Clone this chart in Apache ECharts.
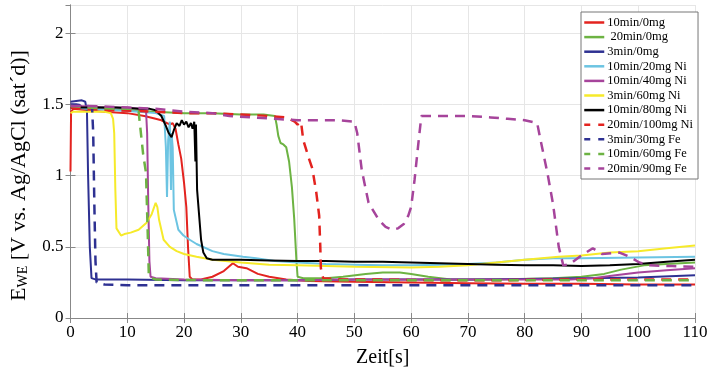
<!DOCTYPE html>
<html><head><meta charset="utf-8">
<script src="https://cdn.jsdelivr.net/npm/echarts@6/dist/echarts.min.js"></script>
<style>html,body{margin:0;padding:0;background:#fff}#c{width:715px;height:373px}</style>
</head><body><div id="c"></div>
<script>
const seriesNames = ["10min/0mg"," 20min/0mg","3min/0mg","10min/20mg Ni","10min/40mg Ni","3min/60mg Ni","10min/80mg Ni","20min/100mg Ni","3min/30mg Fe","10min/60mg Fe","20min/90mg Fe"];
const xTicks = [0,10,20,30,40,50,60,70,80,90,100,110];
const yTicks = [0,0.5,1,1.5,2];

const s10min0mg = [[0,1.03],[0.1,1.45],[0.5,1.47],[3,1.46],[6,1.45],[10,1.44],[13,1.42],[15,1.40],[16,1.39],[17,1.37],[17.5,1.36],[18,1.37],[18.5,1.33],[19,1.22],[19.5,1.12],[20,0.95],[20.4,0.78],[20.7,0.5],[21,0.29],[21.5,0.27],[23,0.27],[25,0.29],[27,0.33],[28.6,0.385],[29.5,0.36],[31,0.35],[33,0.31],[35,0.29],[38,0.27],[42,0.26],[50,0.255],[60,0.25],[70,0.245],[80,0.24],[90,0.24],[100,0.235],[110,0.235]];
const s20min0mg = [[0,1.48],[2,1.48],[5,1.47],[10,1.46],[15,1.45],[20,1.44],[25,1.44],[30,1.43],[34,1.43],[36,1.42],[36.3,1.36],[36.6,1.28],[37,1.23],[37.5,1.22],[38,1.2],[38.5,1.1],[39,0.92],[39.4,0.7],[39.8,0.4],[40,0.29],[41,0.28],[45,0.28],[48,0.29],[52,0.31],[55,0.32],[58,0.32],[60,0.31],[63,0.29],[67,0.27],[75,0.27],[85,0.28],[90,0.29],[94,0.31],[97,0.34],[101,0.37],[105,0.38],[110,0.39]];
const s3min0mg = [[0,1.52],[0.3,1.53],[2,1.53],[2.6,1.52],[2.9,1.45],[3.1,1.0],[3.4,0.5],[3.7,0.28],[4.5,0.27],[10,0.27],[20,0.265],[30,0.265],[40,0.265],[50,0.27],[60,0.27],[70,0.27],[80,0.275],[90,0.28],[100,0.285],[110,0.3]];
const s10min20Ni = [[0,1.48],[3,1.47],[8,1.46],[12,1.45],[15,1.44],[16.5,1.42],[16.8,1.2],[17.0,0.85],[17.2,1.25],[17.5,1.38],[17.7,0.9],[17.8,1.3],[18.0,1.2],[18.2,0.76],[19,0.62],[19.9,0.58],[21,0.55],[22.2,0.52],[25,0.47],[27,0.45],[30.4,0.43],[32.7,0.42],[36,0.4],[40,0.39],[45,0.38],[50,0.375],[55,0.37],[60,0.37],[65,0.375],[70,0.38],[75,0.39],[80,0.41],[85,0.42],[90,0.42],[100,0.425],[110,0.43]];
const s10min40Ni = [[0,1.5],[2,1.49],[6,1.48],[10,1.48],[12.5,1.47],[13.3,1.46],[13.5,1.3],[13.7,0.8],[13.9,0.4],[14.1,0.29],[15,0.28],[20,0.27],[30,0.265],[40,0.265],[50,0.27],[60,0.27],[70,0.27],[80,0.27],[88,0.27],[92,0.28],[96,0.3],[100,0.32],[105,0.335],[110,0.35]];
const s3min60Ni = [[0,1.44],[0.5,1.45],[3,1.45],[6,1.45],[7.1,1.44],[7.5,1.40],[7.7,1.3],[7.9,0.9],[8.1,0.63],[8.9,0.58],[9.5,0.59],[10.6,0.6],[12,0.62],[13.4,0.67],[14.3,0.73],[15,0.81],[15.3,0.78],[15.6,0.69],[16.4,0.55],[17.5,0.5],[18.7,0.47],[20,0.45],[22.2,0.43],[25,0.41],[30,0.39],[35,0.375],[40,0.37],[50,0.36],[60,0.355],[65,0.36],[70,0.37],[75,0.39],[80,0.41],[86,0.43],[90,0.44],[95,0.46],[100,0.47],[105,0.49],[110,0.51]];
const s10min80Ni = [[0,1.48],[3,1.48],[8,1.48],[12,1.47],[14,1.47],[15,1.46],[16,1.42],[16.8,1.35],[17.3,1.3],[17.8,1.27],[18.2,1.32],[18.7,1.37],[19.2,1.35],[19.6,1.39],[20,1.36],[20.4,1.38],[20.8,1.34],[21.2,1.37],[21.5,1.33],[21.8,1.38],[22,1.1],[22.1,1.36],[22.3,0.9],[22.6,0.75],[23,0.55],[23.4,0.46],[24,0.42],[25,0.41],[30,0.41],[35,0.405],[40,0.4],[45,0.4],[50,0.395],[55,0.395],[60,0.39],[65,0.385],[70,0.38],[75,0.375],[80,0.37],[85,0.37],[90,0.365],[95,0.37],[100,0.38],[105,0.395],[110,0.41]];
const s20min100Ni = [[0,1.48],[3,1.47],[8,1.46],[15,1.45],[20,1.44],[25,1.44],[30,1.43],[35,1.42],[38,1.41],[39.5,1.38],[40,1.36],[40.6,1.38],[41,1.25],[42,1.12],[42.6,1.05],[43.3,0.88],[43.8,0.72],[44,0.5],[44.1,0.35],[44.5,0.28],[48,0.27],[55,0.27],[65,0.265],[75,0.265],[85,0.27],[95,0.27],[110,0.27]];
const s3min30Fe = [[0,1.5],[1,1.5],[3,1.49],[3.8,1.48],[4.0,1.3],[4.2,0.8],[4.4,0.4],[4.6,0.25],[6,0.235],[10,0.23],[20,0.23],[40,0.23],[60,0.23],[80,0.23],[100,0.23],[110,0.23]];
const s10min60Fe = [[0,1.49],[3,1.48],[8,1.47],[11,1.47],[12,1.45],[12.4,1.3],[12.8,1.15],[13.3,1.02],[13.6,0.6],[13.8,0.29],[15,0.27],[25,0.265],[40,0.265],[60,0.265],[80,0.265],[100,0.265],[110,0.265]];
const s20min90Fe = [[0,1.49],[3,1.49],[10,1.48],[15,1.47],[20,1.45],[25,1.44],[28,1.42],[32,1.41],[36,1.40],[40,1.39],[44,1.39],[47,1.39],[50,1.38],[50.5,1.3],[51.3,1.04],[52.5,0.81],[54.3,0.69],[55.5,0.64],[56.6,0.62],[57.7,0.63],[58.7,0.66],[59.5,0.72],[60,0.78],[60.6,0.97],[61.2,1.2],[61.8,1.42],[65,1.42],[70,1.42],[74,1.41],[77,1.40],[80,1.39],[82.2,1.37],[82.8,1.25],[84,1.02],[85,0.80],[86,0.5],[86.8,0.37],[88,0.38],[90,0.44],[92,0.49],[93.6,0.45],[96.7,0.46],[98.5,0.43],[100.2,0.39],[102,0.37],[106,0.365],[110,0.36]];

const allData = [s10min0mg,s20min0mg,s3min0mg,s10min20Ni,s10min40Ni,s3min60Ni,s10min80Ni,s20min100Ni,s3min30Fe,s10min60Fe,s20min90Fe];
const colors = ['#e3231f','#6db343','#2e3192','#6cc4e2','#a6449b','#f6ea2a','#000000','#e3231f','#2e3192','#6db343','#a6449b'];
const dashed = [false,false,false,false,false,false,false,true,true,true,true];

const FONT = '"Liberation Serif", "DejaVu Serif", serif';
const chart = echarts.init(document.getElementById('c'), null, {renderer:'canvas'});
const series = allData.map((d,i)=>({
  name: seriesNames[i], type:'line', data:d, showSymbol:false, symbol:'none',
  xAxisIndex:0, yAxisIndex:0, animation:false,
  lineStyle:{color:colors[i], width: dashed[i]?2.5:2, type: dashed[i]?[10,7]:'solid'},
  itemStyle:{color:colors[i]}
}));
const axisLineStyle = {lineStyle:{color:'#888', width:1}};
chart.setOption({
  animation:false,
  grid:{left:66, right:20, top:5, bottom:55},
  legend:{
    orient:'vertical', left:581, top:12, itemWidth:20, itemHeight:10, itemGap:1.6,
    padding:[4,5,4,2], borderColor:'#777', borderWidth:1, backgroundColor:'#fff',
    itemStyle:{opacity:0},
    textStyle:{fontFamily:FONT, fontSize:12.5, lineHeight:12.5, color:'#000', padding:[0,0,0,-2]},
    data: seriesNames.map((n,i)=>({name:n, itemStyle:{opacity:0}, lineStyle: dashed[i]?{type:[6,8], width:2.5}:{width:2.5}}))
  },
  xAxis:[{
    type:'value', min:0, max:110, interval:10, position:'bottom',
    name:'Zeit[s]', nameLocation:'middle', nameGap:30,
    nameTextStyle:{fontFamily:FONT, fontSize:20, color:'#000'},
    axisLine:axisLineStyle, axisTick:{inside:true, length:5, lineStyle:{color:'#888'}},
    axisLabel:{fontFamily:FONT, fontSize:17, color:'#000', margin:6},
    splitLine:{show:true, lineStyle:{color:'#e6e6e6'}}
  },{
    type:'value', min:0, max:110, interval:10, position:'top',
    axisLine:axisLineStyle, axisTick:{inside:true, length:5, lineStyle:{color:'#888'}},
    axisLabel:{show:false}, splitLine:{show:false}
  }],
  yAxis:[{
    type:'value', min:0, max:2.2, interval:0.5, position:'left',
    name:'{e|E}{s|WE}{t| [V vs. Ag/AgCl (sat\u00b4d)]}', nameLocation:'middle', nameGap:40, nameRotate:90,
    nameTextStyle:{fontFamily:FONT, fontSize:22, color:'#000', padding:[0,28,0,0],
      rich:{e:{fontFamily:FONT, fontSize:22, color:'#000'}, s:{fontFamily:FONT, fontSize:14, color:'#000', verticalAlign:'bottom', padding:[9,0,0,0]}, t:{fontFamily:FONT, fontSize:22, color:'#000'}}},
    axisLine:{show:true, lineStyle:{color:'#888', width:1}}, axisTick:{show:true, inside:true, length:5, lineStyle:{color:'#888'}},
    axisLabel:{fontFamily:FONT, fontSize:17, color:'#000', margin:7, showMaxLabel:false, formatter:(v)=> yTicks.indexOf(v)>=0 ? String(v) : ''},
    splitLine:{show:true, lineStyle:{color:'#e6e6e6'}}
  },{
    type:'value', min:0, max:2.2, interval:0.5, position:'right',
    axisLine:{show:true, lineStyle:{color:'#888', width:1}}, axisTick:{show:true, inside:true, length:5, lineStyle:{color:'#888'}},
    axisLabel:{show:false}, splitLine:{show:false}
  }],
  series: series
});
</script></body></html>
